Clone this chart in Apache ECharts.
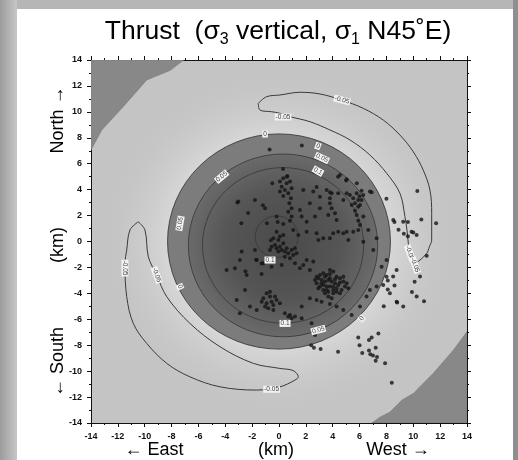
<!DOCTYPE html>
<html><head><meta charset="utf-8">
<script src="https://cdn.jsdelivr.net/npm/echarts@6/dist/echarts.min.js"></script>
<style>html,body{margin:0;padding:0;background:#b4b4b4;}#c{width:518px;height:460px;}</style>
</head><body><div id="c"></div>
<script>
// ---- data ----
const axisMin = -14, axisMax = 14, axisStep = 2;

// dark corner regions (contour boundaries), [x, y] in km
const cornerNW = [[-14,14],[-14,7.06],[-13.2,8.6],[-11.6,10.4],[-9.85,12.46],[-8.1,13.2],[-7.1,14]];
const cornerSE = [[14,-14],[14,-6.96],[12.98,-8.38],[11.49,-10.17],[10.0,-11.72],[9.16,-12.23],[8.26,-13.16],[7.52,-13.55],[6.92,-14]];

// circular contours: [cx, cy, radius, level]
const ringContours = [[0,0,8.3,'0'],[0.3,-0.3,7.05,'0.05'],[0.3,-0.3,6.0,'0.1'],[-0.17,0.37,1.6,'0.15']];

// -0.05 tongue-shaped contours (closed loops)
const tongueNE = [[-1.54,10.66],[-0.92,11.17],[0.07,11.3],[1.56,11.51],[3.05,11.38],[4.67,10.91],[6.28,10.27],[7.76,9.37],[9.01,8.21],[10.0,6.92],[10.74,5.51],[11.24,3.97],[11.37,2.17],[11.37,0.11],[11.2,-0.4],[11.0,-0.92],[10.5,-1.43],[10.05,-1.74],[9.8,-1.5],[9.63,-0.14],[9.53,0.88],[9.38,1.91],[9.01,3.71],[8.02,5.26],[6.77,6.67],[5.29,7.83],[3.8,8.6],[2.31,9.24],[0.82,9.63],[0.07,9.89],[-0.55,10.01],[-1.42,10.14],[-1.54,10.66]];
const tongueSW = [[-10.48,1.52],[-11.1,0.88],[-11.34,-0.66],[-11.47,-1.69],[-11.34,-4.26],[-10.85,-6.32],[-9.85,-7.86],[-8.36,-9.4],[-6.63,-10.44],[-4.39,-11.21],[-1.66,-11.46],[0.07,-11.21],[1.19,-10.69],[1.44,-10.44],[1.06,-9.96],[0.07,-9.79],[-1.91,-9.4],[-4.39,-8.12],[-6.63,-6.32],[-8.36,-4.26],[-9.11,-2.59],[-9.73,-1.18],[-9.98,0.88],[-10.48,1.52]];

// contour labels: [x, y, text, rotation in degrees]
const contourLabels = [
  [-1.04,8.29,'0',0],[-4.27,5.0,'0.05',40],[-7.37,1.4,'0.05',80],[-7.37,-3.49,'0',-65],
  [2.9,7.36,'0',-20],[3.2,6.44,'0.05',-25],[2.9,5.43,'0.1',-30],
  [-0.67,-1.43,'0.1',0],[0.45,-6.32,'0.1',0],[2.93,-6.83,'0.05',15],[6.16,-5.93,'0',45],
  [9.75,-0.9,'-0.05',-70],[10.13,-1.82,'-0.05',-70],[4.69,10.91,'-0.05',-15],[0.3,9.6,'-0.05',0],
  [-11.47,-2.05,'-0.05',-90],[-9.11,-2.59,'-0.05',-70],[-0.55,-11.4,'-0.05',0]
];

// earthquake epicentres [x, y] km
const quakes = [
[-0.7,7.1],[-0.5,4.5],[-3.1,3.0],[-1.2,2.8],[-2.3,2.2],[-2.8,1.4],[-0.9,1.4],[-0.1,1.5],
[1.7,7.4],[6.9,3.8],[8.0,3.3],[10.3,3.9],[8.6,1.5],[9.6,1.5],[10.6,1.7],[11.7,1.4],[8.9,0.9],[9.3,0.6],[9.6,0.4],[10.0,0.7],
[0.3,5.6],[0.6,5.0],[2.6,5.4],[2.8,4.2],[3.8,3.8],[4.4,5.0],[5.0,4.7],[5.8,4.5],[6.0,3.5],
[-0.6,0.1],[-1.7,-1.4],[-1.3,-1.7],[-3.9,-2.2],[-2.5,-2.3],[-1.3,-2.5],
[10.1,-3.1],[10.5,-2.7],[9.9,-3.9],[10.8,-4.6],[8.8,-4.7],[7.8,-5.0],[8.5,-2.7],[8.1,-3.0],[8.6,-3.4],[8.1,-3.7],[11.0,-1.1],
[5.9,-7.4],[6.9,-7.4],[7.4,-7.1],[6.7,-7.6],[6.0,-8.0],[7.2,-8.2],[6.2,-8.6],[6.7,-8.4],[6.8,-8.7],[7.0,-8.8],[7.3,-8.9],[7.2,-9.2],[7.9,-9.4],
[4.4,-8.5],[3.1,-8.3],[2.4,-8.0],[2.6,-8.2],[8.4,-10.9],
[4.54,5.13],[5.04,4.8],
[0.32,4.87],[0.57,4.49],[0.2,4.23],[0.82,4.62],[0.44,3.97],[0.07,3.85],[0.69,3.72],[0.94,4.1],[0.32,3.51],[0.62,5.05],[0.07,4.62],[0.89,3.33],[0.77,2.95],[0.94,2.56],
[1.81,3.97],[2.55,3.85],[3.05,3.46],[3.55,3.97],[3.92,3.72],[4.41,3.72],[3.79,3.33],[4.79,3.2],
[-3.03,3.08],[-1.79,3.2],[-1.04,2.56],[-0.18,1.92],[0.69,2.3],[0.94,1.92],[0.82,1.61],[0.32,1.35],
[5.78,3.72],[6.15,3.92],[5.53,3.33],[5.9,3.2],[5.66,2.95],[6.15,3.2],[5.41,2.82],[5.9,2.69],[5.66,2.38],[6.03,2.82],[5.28,3.59],[6.28,3.59],[5.78,2.05],[5.9,1.61],[5.04,3.72],[6.77,3.85],
[6.28,1.92],[6.03,1.27],[3.79,2.95],[3.92,2.56],[4.17,2.17],[3.67,2.05],[4.29,1.66],[3.05,2.56],[2.68,1.92],[2.06,1.53],[1.69,1.92],[1.56,2.43],[2.3,2.95],
[5.04,0.76],[5.53,0.76],[4.79,0.63],[4.41,0.76],[4.04,0.63],[5.9,0.89],[5.16,0.12],[6.28,-0.01],[7.02,-0.65],[7.27,0.25],[6.65,0.89],
[1.44,0.5],[1.06,0.89],[2.06,0.76],[2.8,0.63],[2.93,0.12],[3.3,0.25],[3.79,0.25],
[-0.42,0.25],[-0.05,0.12],[-0.3,-0.27],[0.07,-0.4],[0.32,-0.14],[0.57,-0.52],[0.2,-0.65],[0.44,-0.78],[0.69,-0.91],[0.94,-0.65],[1.06,-1.04],[0.82,-1.3],[0.44,-1.17],[-0.05,-0.78],[-0.18,-0.52],[-0.55,-0.4],[0.07,0.38],[0.32,0.5],[1.19,-0.52],[1.31,-0.91],[-0.18,0.76],[-0.67,-0.65],
[1.19,-1.68],[1.81,-1.81],[1.56,-2.07],[2.06,-1.42],[2.3,-2.19],[2.55,-1.55],[0.2,-1.81],[-0.55,-1.94],[-1.17,-1.68],[-1.66,-1.42],[-1.79,-0.65],[-2.78,-0.78],[-3.28,-2.07],[-2.41,-2.58],[-2.91,-1.42],
[2.8,-2.71],[3.05,-2.58],[3.3,-2.45],[3.55,-2.58],[3.79,-2.5],[4.04,-2.32],[4.29,-2.71],[4.54,-2.84],[4.79,-3.09],[4.91,-3.48],[4.66,-3.74],[4.29,-3.87],[4.04,-3.99],[3.67,-3.87],[3.3,-3.74],[3.05,-3.48],[2.8,-3.22],[2.68,-2.97],[3.17,-2.97],[3.42,-3.09],[3.67,-2.97],[3.92,-3.09],[4.17,-3.22],[4.41,-3.35],[3.79,-3.48],[3.55,-3.48],[4.04,-3.48],[4.29,-3.61],[3.79,-2.84],[3.3,-3.35],[2.93,-2.84],[4.79,-2.71],[5.04,-3.22],[3.67,-4.25],[3.92,-4.38],[3.42,-2.71],[4.54,-3.17],[4.17,-2.92],[3.17,-3.22],[2.93,-3.61],[3.42,-3.99],[4.54,-3.99],[5.16,-3.61],[3.79,-2.19],[3.55,-3.74],[4.04,-3.74],
[2.3,-4.38],[2.8,-4.51],[3.17,-4.64],[3.79,-4.82],[4.29,-5.02],[4.79,-5.28],[5.41,-5.67],[6.03,-5.02],[6.52,-4.25],[6.77,-3.74],[7.27,-3.48],[7.76,-3.35],[8.01,-2.71],[8.76,-2.19],[8.01,-1.42],[7.64,-1.94],[8.26,-3.99],[8.76,-4.64],[9.25,-5.02],
[-0.92,-3.99],[-0.67,-4.25],[-1.17,-4.38],[-0.55,-4.64],[-0.92,-4.77],[-0.42,-4.89],[-0.18,-4.51],[-1.04,-5.02],[-0.8,-5.15],[-0.3,-4.25],[-1.29,-4.64],[0.07,-4.77],[-0.67,-3.87],[-0.42,-5.28],
[0.44,-5.54],[0.69,-5.79],[0.94,-5.92],[1.19,-5.79],[0.82,-5.67],
[-3.15,-4.51],[-2.53,-3.74],[-2.16,-5.02],[-1.66,-5.28],[-2.91,-5.54],[1.69,-5.02],[1.69,-5.92],[2.43,-6.31],[2.68,-7.21],
[8.51,1.66],[9.25,1.53],[9.87,0.76],[10.25,0.5],[10.25,-4.25]
];

// ---- chart ----
const chart = echarts.init(document.getElementById('c'), null, {renderer:'canvas'});
const FONT = '"Liberation Sans", Arial, Helvetica, sans-serif';

function polyRender(shapes, fill) {
  return function(params, api) {
    const pts = shapes[params.dataIndex].map(p => api.coord(p));
    return {type:'polygon', shape:{points:pts}, style:{fill: fill, stroke:'#7a7a7a', lineWidth:0.6}};
  };
}

const baseAxis = {
  type:'value', min:axisMin, max:axisMax, interval:axisStep,
  axisLine:{show:true, onZero:false, lineStyle:{color:'#111', width:1}},
  axisTick:{show:true, length:4, lineStyle:{color:'#111'}},
  minorTick:{show:true, splitNumber:2, length:2, lineStyle:{color:'#111'}},
  splitLine:{show:false},
  axisLabel:{show:false}
};
const labelStyle = {show:true, fontFamily:FONT, fontWeight:'bold', fontSize:9, color:'#111', margin:9};
const nameStyle = {font:'18px '+FONT, fill:'#000', textAlign:'center', align:'center', textVerticalAlign:'middle', verticalAlign:'middle'};

const option = {
  backgroundColor:'#b6b6b6',
  animation:false,
  grid:{left:91, right:51, top:60, bottom:37, show:true, backgroundColor:'#c4c4c4', borderWidth:0},
  xAxis:[
    Object.assign({}, baseAxis, {position:'bottom', axisLabel:labelStyle}),
    Object.assign({}, baseAxis, {position:'top'})
  ],
  yAxis:[
    Object.assign({}, baseAxis, {position:'left', axisLabel:labelStyle}),
    Object.assign({}, baseAxis, {position:'right'})
  ],
  graphic:{elements:[
    {type:'rect', z:-100, shape:{x:0,y:0,width:17,height:460}, style:{fill:{type:'linear',x:0,y:0,x2:1,y2:0,colorStops:[{offset:0,color:'#9c9c9c'},{offset:1,color:'#c6c6c6'}]}}},
    {type:'rect', z:-100, shape:{x:513,y:0,width:5,height:460}, style:{fill:'#8f8f8f'}},
    {type:'rect', z:-99, shape:{x:17,y:9,width:496,height:451}, style:{fill:'#ffffff'}},
    {type:'text', z:100, x:278, y:16, style:Object.assign({}, {
      text:'{a|Thrust  (σ}{s|3}{a| vertical, σ}{s|1}{a| N45˚E)}',
      textAlign:'center', align:'center', fill:'#000',
      rich:{a:{fontFamily:FONT, fontSize:26.5, lineHeight:32, fill:'#000', color:'#000'},
            s:{fontFamily:FONT, fontSize:16, lineHeight:10, verticalAlign:'bottom', fill:'#000', color:'#000'}}
    })},
    {type:'text', z:100, x:154, y:450, style:Object.assign({text:'← East'}, nameStyle)},
    {type:'text', z:100, x:276, y:450, style:Object.assign({text:'(km)'}, nameStyle)},
    {type:'text', z:100, x:398, y:450, style:Object.assign({text:'West →'}, nameStyle)},
    {type:'text', z:100, x:58, y:120, rotation:Math.PI/2, style:Object.assign({text:'North →'}, nameStyle)},
    {type:'text', z:100, x:58, y:245, rotation:Math.PI/2, style:Object.assign({text:'(km)'}, nameStyle)},
    {type:'text', z:100, x:58, y:362, rotation:Math.PI/2, style:Object.assign({text:'← South'}, nameStyle)}
  ]},
  series:[
    { // light halo around the central lobe
      type:'custom', clip:true, z:1, silent:true, data:[[0,0,13.5]],
      renderItem:function(params, api){
        const c = api.coord([api.value(0), api.value(1)]);
        const s = api.size([api.value(2), api.value(2)]);
        return {type:'circle', x:c[0], y:c[1], scaleY:s[1]/s[0], shape:{cx:0,cy:0,r:s[0]},
          style:{fill:{type:'radial',x:0.5,y:0.5,r:0.5,colorStops:[{offset:0,color:'#d6d6d6'},{offset:0.62,color:'#d6d6d6'},{offset:1,color:'rgba(196,196,196,0)'}]}}};
      }
    },
    { // dark corner lobes
      type:'custom', clip:true, z:2, silent:true, data:[[0,0],[0,0]],
      renderItem:polyRender([cornerNW, cornerSE], '#888888')
    },
    { // central positive lobe fill
      type:'custom', clip:true, z:3, silent:true, data:ringContours.slice(0,2).map(r=>[r[0],r[1],r[2]]),
      renderItem:function(params, api){
        const c = api.coord([api.value(0), api.value(1)]);
        const s = api.size([api.value(2), api.value(2)]);
        const fill = params.dataIndex === 0 ? '#7c7c7c' :
          {type:'radial',x:0.5,y:0.5,r:0.5,colorStops:[{offset:0,color:'#4a4a4a'},{offset:0.6,color:'#555555'},{offset:1,color:'#6a6a6a'}]};
        return {type:'circle', x:c[0], y:c[1], scaleY:s[1]/s[0], shape:{cx:0,cy:0,r:s[0]}, style:{fill:fill}};
      }
    },
    { // circular contour lines
      type:'custom', clip:true, z:4, silent:true, data:ringContours.map(r=>[r[0],r[1],r[2]]),
      renderItem:function(params, api){
        const c = api.coord([api.value(0), api.value(1)]);
        const s = api.size([api.value(2), api.value(2)]);
        return {type:'circle', x:c[0], y:c[1], scaleY:s[1]/s[0], shape:{cx:0,cy:0,r:s[0]},
          style:{fill:null, stroke:'#3a3a3a', lineWidth:0.9, strokeNoScale:true}};
      }
    },
    {type:'line', z:4, data:tongueNE, smooth:0.35, symbol:'none', silent:true, lineStyle:{color:'#3a3a3a', width:1}},
    {type:'line', z:4, data:tongueSW, smooth:0.35, symbol:'none', silent:true, lineStyle:{color:'#3a3a3a', width:1}},
    {type:'scatter', z:5, data:quakes, symbol:'circle', symbolSize:4, silent:true, itemStyle:{color:'#141414'}},
    { // contour labels
      type:'custom', z:6, silent:true, data:contourLabels.map(l=>[l[0],l[1]]),
      renderItem:function(params, api){
        const l = contourLabels[params.dataIndex];
        const c = api.coord([l[0], l[1]]);
        return {type:'text', x:c[0], y:c[1], rotation:l[3]*Math.PI/180,
          style:{text:l[2], font:'6.5px '+FONT, fill:'#444', textAlign:'center', align:'center', textVerticalAlign:'middle', verticalAlign:'middle', backgroundColor:'#f2f2f2', padding:[0,1]}};
      }
    }
  ]
};
chart.setOption(option);
</script></body></html>
